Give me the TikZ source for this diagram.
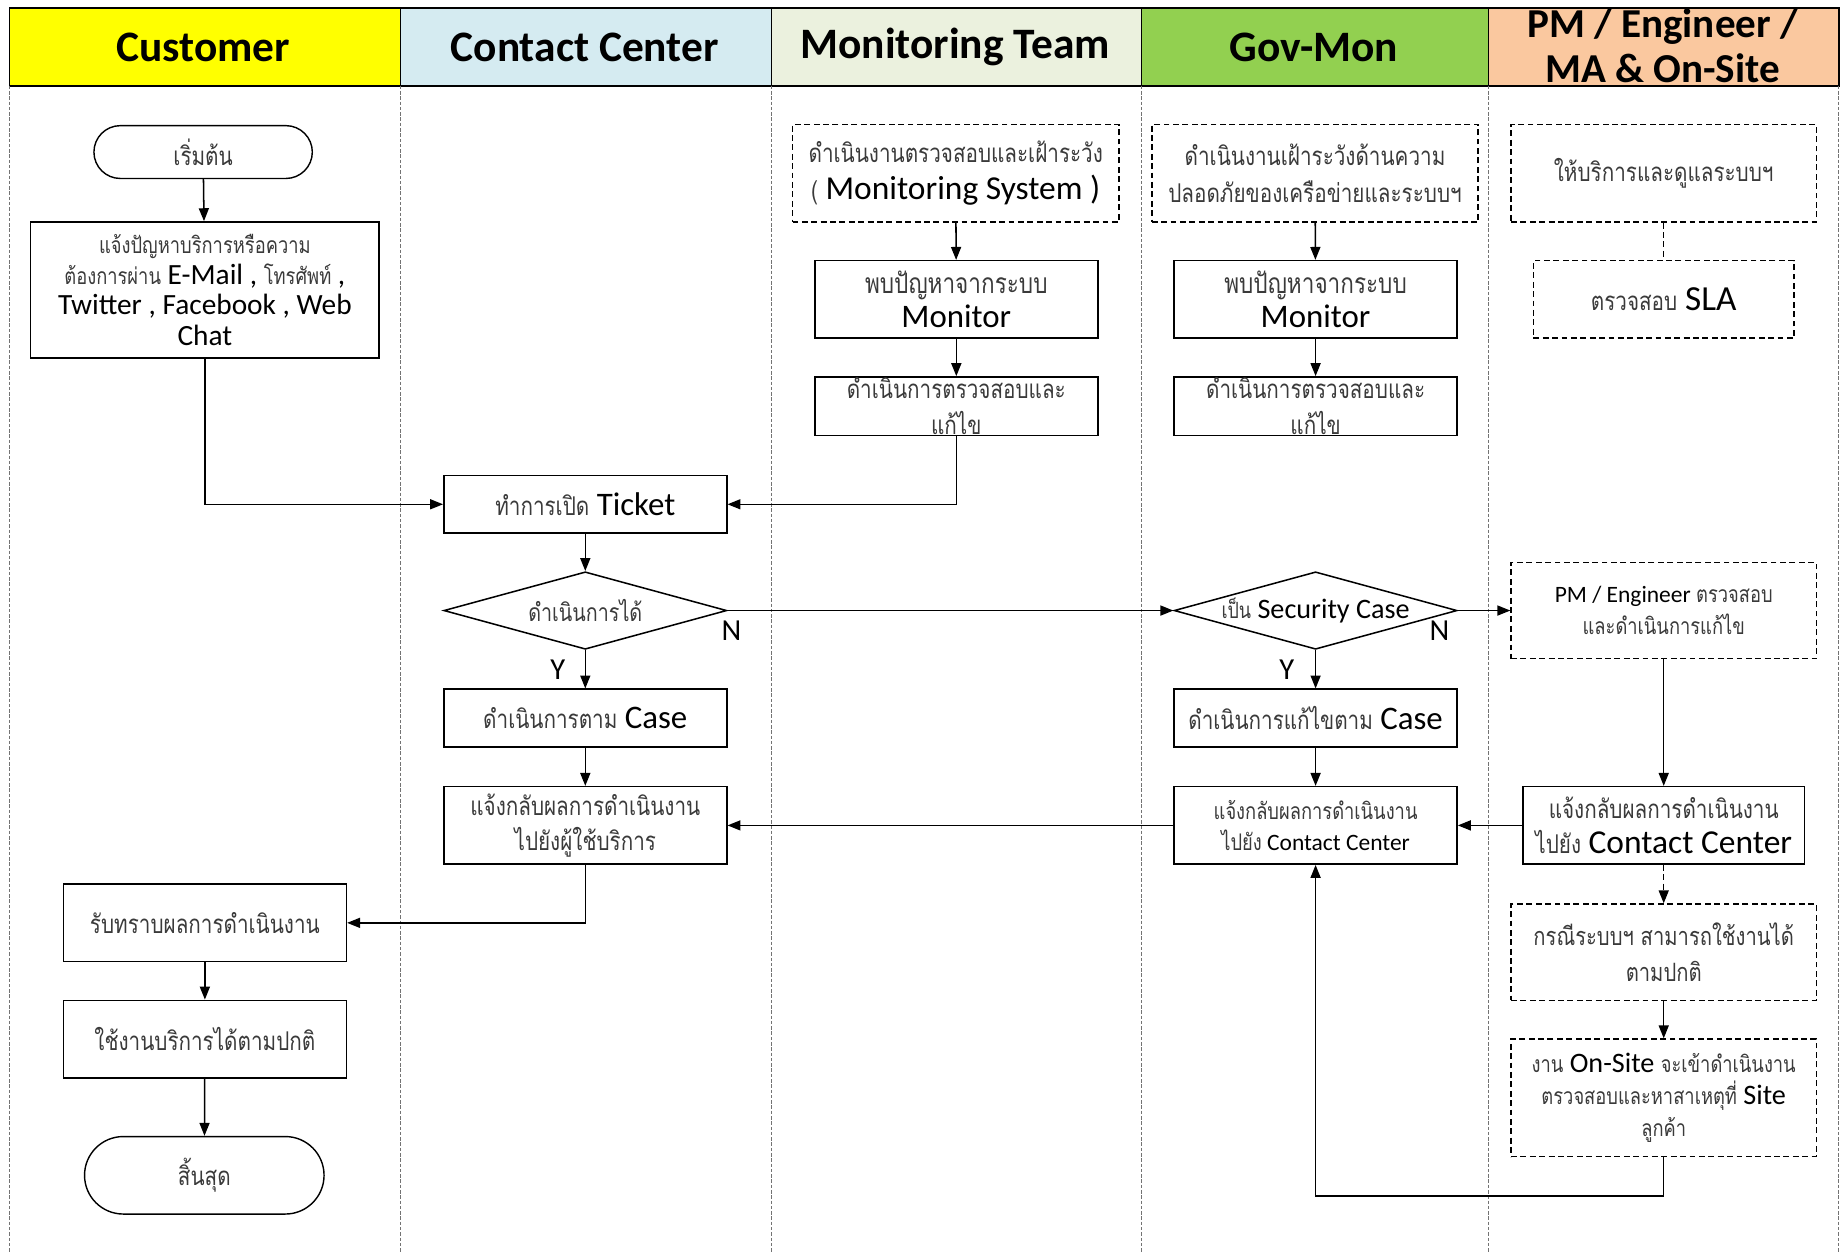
\documentclass[tikz,border=0pt]{standalone}
\usepackage{fontspec}
\setmainfont{Carlito}
\newfontfamily\thf[Script=Thai,FakeStretch=0.8]{Loma}
\usetikzlibrary{arrows.meta,shapes.geometric,shapes.misc}
\definecolor{thgray}{HTML}{3A3A3A}
\definecolor{hcust}{HTML}{FFFF00}
\definecolor{hcc}{HTML}{D5EBF1}
\definecolor{hmon}{HTML}{EBF1DE}
\definecolor{hgov}{HTML}{92D050}
\definecolor{hpm}{HTML}{FAC89F}
\newcommand{\fs}[2]{\fontsize{#1}{#2}\selectfont}
\newcommand{\thsz}{22}
\newcommand{\tha}[1]{{\fontsize{\thsz}{\baselineskip}\thf\color{thgray}#1}}
\tikzset{
  box/.style={draw, line width=1.3pt, inner sep=0pt, align=center, minimum width=241pt, minimum height=66pt},
  dbox/.style={box, dash pattern=on 5pt off 3pt},
  term/.style={draw, rounded rectangle, line width=1.2pt, inner sep=0pt, align=center},
  dia/.style={draw, diamond, line width=1.3pt, inner sep=0pt, minimum width=241pt, minimum height=66pt},
  arr/.style={line width=1.3pt, -{Triangle[length=11pt,width=8.5pt]}},
  lane/.style={draw=black!55, line width=0.7pt, dash pattern=on 3pt off 1.5pt},
  htext/.style={font={\fs{37}{38}\bfseries}, align=center, inner sep=0pt},
  yn/.style={font={\fs{26}{28}}, inner sep=0pt},
  lbl/.style={inner sep=0pt, align=center},
}
\begin{document}
\begin{tikzpicture}[x=1pt,y=-1pt]
\useasboundingbox (0,0) rectangle (1568,1066.4);
% header
\fill[hcust] (8,7) rectangle (341,73);
\fill[hcc] (341,7) rectangle (657,73);
\fill[hmon] (657,7) rectangle (972,73);
\fill[hgov] (972,7) rectangle (1268,73);
\fill[hpm] (1268,7) rectangle (1566,73);
\draw[line width=1.5pt] (8,7) rectangle (1566,73);
\foreach \x in {341,657,972,1268} \draw[line width=1.2pt] (\x,7) -- (\x,73);
\node[htext] (h1) at (173,40) {Customer};
\node[htext] (h2) at (498,40) {Contact Center};
\node[htext] (h3) at (813.5,40) {Monitoring Team};
\node[htext] (h4) at (1119,40) {Gov-Mon};
\node[htext, font={\fs{35}{38}\bfseries}] (h5) at (1416,39) {PM / Engineer /\\MA \& On-Site};
% lanes
\foreach \x in {8,341,657,972,1268,1566} \draw[lane] (\x,73) -- (\x,1066);
% Customer lane
\node[term, minimum width=186pt, minimum height=45pt, font={\fs{22}{24}\def\thsz{22}}] (start) at (173,129.5) {\tha{เริ่มต้น}};
\node[box, minimum width=297pt, minimum height=116pt, font={\fs{25}{26}\def\thsz{19.5}}] (report) at (174.5,247)
  {\tha{แจ้งปัญหาบริการหรือความ}\\\tha{ต้องการผ่าน} E-Mail , \tha{โทรศัพท์} ,\\Twitter , Facebook , Web\\Chat};
\node[box, font={\fs{28}{30}\def\thsz{22}}] (recv) at (174.5,786) {\tha{รับทราบผลการดำเนินงาน}};
\node[box, font={\fs{28}{30}\def\thsz{22}}] (norm) at (174.5,885) {\tha{ใช้งานบริการได้ตามปกติ}};
\node[term, minimum width=204pt, minimum height=66pt, font={\fs{22}{24}\def\thsz{22}}] (end) at (174,1001) {\tha{สิ้นสุด}};
% Contact Center lane
\node[box, minimum height=49pt, font={\fs{28}{30}\def\thsz{22}}] (ticket) at (498.5,429.5) {\tha{ทำการเปิด} Ticket};
\node[dia] (d1) at (498.5,520) {};
\node[lbl, font={\fs{28}{30}\def\thsz{21}}] (d1t) at (d1) {\tha{ดำเนินการได้}};
\node[box, minimum height=49pt, font={\fs{28}{30}\def\thsz{22}}] (case) at (498.5,611.5) {\tha{ดำเนินการตาม} Case};
\node[box, font={\fs{28}{30}\def\thsz{22}}] (fb) at (498.5,703) {\tha{แจ้งกลับผลการดำเนินงาน}\\\tha{ไปยังผู้ใช้บริการ}};
% Monitoring lane
\node[dbox, minimum width=278pt, minimum height=83pt, font={\fs{28.5}{31}\def\thsz{22}}] (mon1) at (814,147.5)
  {\tha{ดำเนินงานตรวจสอบและเฝ้าระวัง}\\\tha{(} Monitoring System )};
\node[box, font={\fs{28}{29}\def\thsz{24}}] (mon2) at (814.5,255) {\tha{พบปัญหาจากระบบ}\\Monitor};
\node[box, minimum height=50pt] (mon3) at (814.5,346) {};
\node[lbl, font={\fs{28}{31}\def\thsz{22}}] (mon3t) at (mon3) {\tha{ดำเนินการตรวจสอบและ}\\\tha{แก้ไข}};
% Gov-Mon lane
\node[dbox, minimum width=278pt, minimum height=83pt, font={\fs{28}{31}\def\thsz{22}}] (gov1) at (1120,147.5)
  {\tha{ดำเนินงานเฝ้าระวังด้านความ}\\\tha{ปลอดภัยของเครือข่ายและระบบฯ}};
\node[box, font={\fs{28}{29}\def\thsz{24}}] (gov2) at (1120.5,255) {\tha{พบปัญหาจากระบบ}\\Monitor};
\node[box, minimum height=50pt] (gov3) at (1120.5,346) {};
\node[lbl, font={\fs{28}{31}\def\thsz{22}}] (gov3t) at (gov3) {\tha{ดำเนินการตรวจสอบและ}\\\tha{แก้ไข}};
\node[dia] (d2) at (1120.5,520) {};
\node[lbl, font={\fs{24}{26}\def\thsz{19}}] (d2t) at (d2) {\tha{เป็น} Security Case};
\node[box, minimum height=49pt, font={\fs{28}{30}\def\thsz{22}}] (gcase) at (1120.5,611.5) {\tha{ดำเนินการแก้ไขตาม} Case};
\node[box, font={\fs{20}{27}\def\thsz{19.5}}] (gfb) at (1120.5,703) {\tha{แจ้งกลับผลการดำเนินงาน}\\\tha{ไปยัง} Contact Center};
% PM lane
\node[dbox, minimum width=260pt, minimum height=83pt, font={\fs{28}{30}\def\thsz{22}}] (pm1) at (1417,147.5) {\tha{ให้บริการและดูแลระบบฯ}};
\node[dbox, minimum width=222pt, minimum height=66pt, font={\fs{30}{30}\def\thsz{22}}] (sla) at (1417,255) {\tha{ตรวจสอบ} SLA};
\node[dbox, minimum width=260pt, minimum height=82pt, font={\fs{20}{27}\def\thsz{19.5}}] (pm2) at (1417,520) {PM / Engineer \tha{ตรวจสอบ}\\\tha{และดำเนินการแก้ไข}};
\node[box, minimum width=240pt, font={\fs{28.5}{30}\def\thsz{22}}] (pm3) at (1417,703) {\tha{แจ้งกลับผลการดำเนินงาน}\\\tha{ไปยัง} Contact Center};
\node[dbox, minimum width=260pt, minimum height=82pt, font={\fs{28}{30}\def\thsz{21.5}}] (pm4) at (1417,811) {\tha{กรณีระบบฯ สามารถใช้งานได้}\\\tha{ตามปกติ}};
\node[dbox, minimum width=260pt, minimum height=100pt, font={\fs{24}{27}\def\thsz{19.5}}] (pm5) at (1417,935)
  {\tha{งาน} On-Site \tha{จะเข้าดำเนินงาน}\\\tha{ตรวจสอบและหาสาเหตุที่} Site\\\tha{ลูกค้า}};
% Y / N labels
\node[yn] (n1) at (623,537) {N};
\node[yn] (y1) at (475,570) {Y};
\node[yn] (n2) at (1226,537) {N};
\node[yn] (y2) at (1096,570) {Y};
% connectors
\draw[arr] (start) -- (report);
\draw[arr] (report.south) |- (ticket.west);
\draw[arr] (mon1) -- (mon2);
\draw[arr] (mon2) -- (mon3);
\draw[arr] (mon3.south) |- (ticket.east);
\draw[arr] (gov1) -- (gov2);
\draw[arr] (gov2) -- (gov3);
\draw[line width=1.2pt, dash pattern=on 5pt off 3pt] (pm1) -- (sla);
\draw[arr] (ticket) -- (d1);
\draw[arr] (d1.east) -- (d2.west);
\draw[arr] (d1.south) -- (case);
\draw[arr] (case) -- (fb);
\draw[arr] (fb.south) |- (recv.east);
\draw[arr] (recv) -- (norm);
\draw[arr] (norm) -- (end);
\draw[arr] (d2.east) -- (pm2.west);
\draw[arr] (d2.south) -- (gcase);
\draw[arr] (gcase) -- (gfb);
\draw[arr] (gfb.west) -- (fb.east);
\draw[arr] (pm3.west) -- (gfb.east);
\draw[arr] (pm2.south) -- (pm3.north);
\draw[arr, dash pattern=on 5pt off 3pt] (pm3.south) -- (pm4.north);
\draw[arr] (pm4) -- (pm5);
\draw[arr] (pm5.south) -- ++(0,33) -| (gfb.south);
\end{tikzpicture}
\end{document}
